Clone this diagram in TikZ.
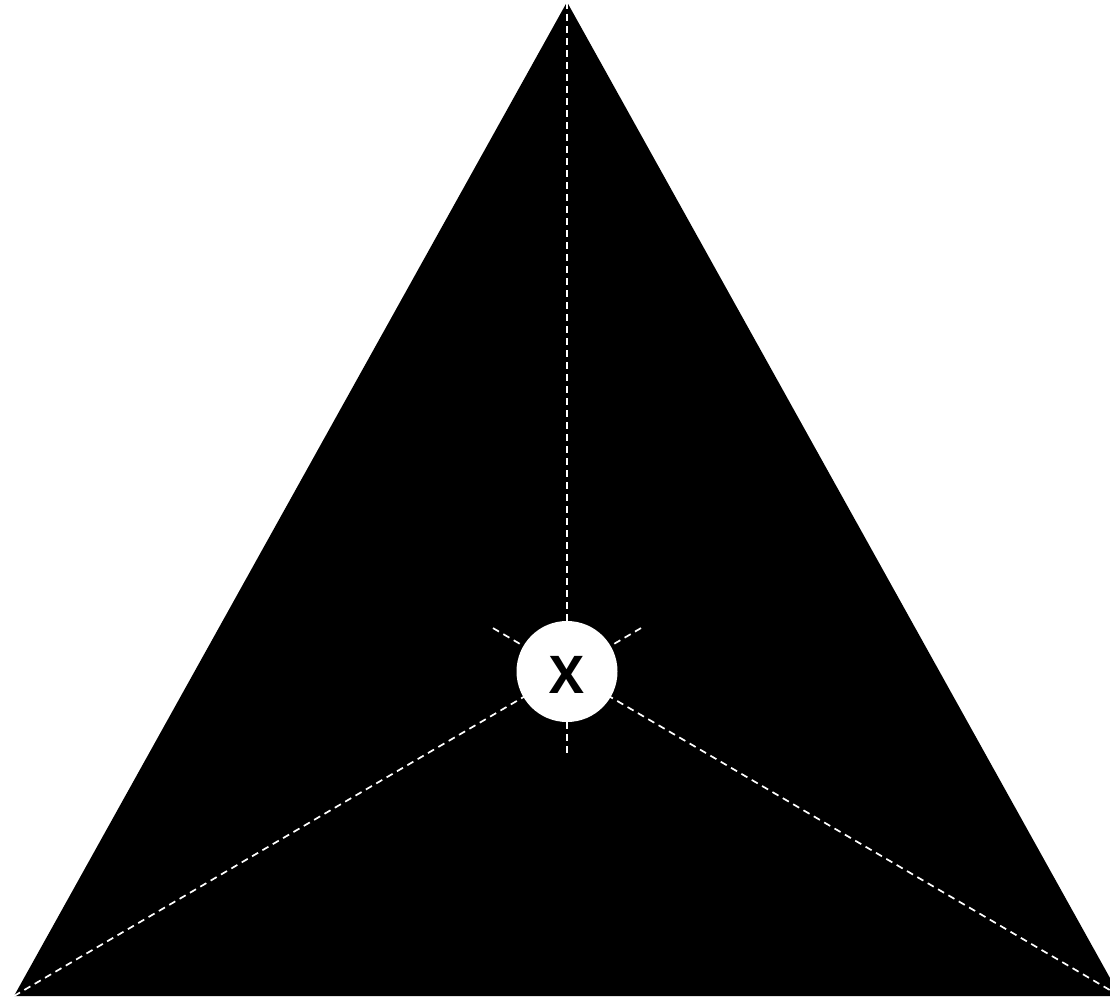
\documentclass[tikz,border=0pt]{standalone}
\usepackage{fontspec}
\setmainfont{Open Sans}
\usetikzlibrary{calc}
\begin{document}
\begin{tikzpicture}[x=1pt,y=-1pt,
  bisector/.style={draw=white,line width=1.7pt,dash pattern=on 7pt off 5pt},
  centre/.style={circle,fill=white,minimum size=101pt,inner sep=0pt},
  centrelabel/.style={inner sep=0pt,font=\fontsize{52}{52}\selectfont\bfseries}]
\useasboundingbox (0,0) rectangle (1110,998);
\begin{scope}
\clip (0,0) rectangle (1110,998);
\coordinate (A) at (567,2);
\coordinate (B) at (14,996);
\coordinate (C) at (1120,996);
\fill[black] (A) -- (B) -- (C) -- cycle;
\coordinate (O) at (567,671.5);
\coordinate (Aend) at ($(A)!1!(O)+(0,86)$);
\coordinate (Bend) at ($(O)!-86pt!(B)$);
\coordinate (Cend) at ($(O)!-86pt!(C)$);
\draw[bisector] (A) -- (Aend);
\draw[bisector] (B) -- (Bend);
\draw[bisector] (C) -- (Cend);
\node[centre] (c) at (O) {};
\node[centrelabel] (cx) at ($(c.center)+(0,3.5)$) {X};
\end{scope}
\end{tikzpicture}
\end{document}
